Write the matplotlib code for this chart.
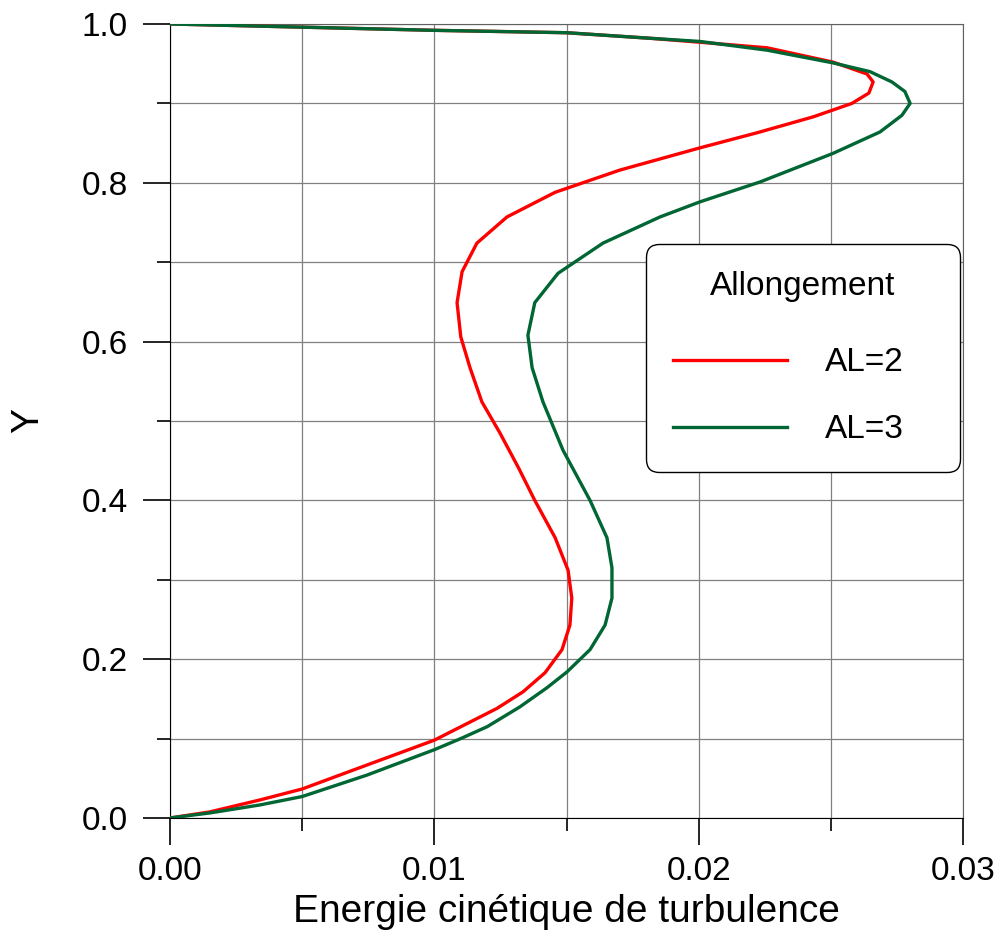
import matplotlib
matplotlib.use('Agg')
import matplotlib.pyplot as plt
from matplotlib.ticker import MultipleLocator

plt.rcParams['font.family'] = ['Liberation Sans', 'DejaVu Sans']

# Energie cinetique de turbulence vs Y
y_al2 = [0.0, 0.0076, 0.0227, 0.0365, 0.0667, 0.082, 0.098, 0.138, 0.159, 0.183,
         0.212, 0.243, 0.277, 0.312, 0.353, 0.400, 0.440, 0.485, 0.524, 0.567,
         0.606, 0.649, 0.688, 0.724, 0.757, 0.788, 0.816, 0.844, 0.863, 0.883,
         0.900, 0.913, 0.927, 0.937, 0.952, 0.970, 0.977, 0.982, 0.989, 0.992,
         0.996, 1.0]
k_al2 = [0.0, 0.0015, 0.0034, 0.0050, 0.00745, 0.0087, 0.0100, 0.01237, 0.01336, 0.01419,
         0.01483, 0.01513, 0.0152, 0.01506, 0.01457, 0.0138, 0.0132, 0.01248, 0.0118, 0.01135,
         0.0110, 0.01086, 0.01105, 0.01161, 0.01275, 0.01457, 0.01702, 0.02005, 0.02221, 0.02433,
         0.0258, 0.02644, 0.0266, 0.02637, 0.02508, 0.02259, 0.02005, 0.01816, 0.0150, 0.0100,
         0.0050, 0.0]

y_al3 = [0.0, 0.0063, 0.0164, 0.027, 0.054, 0.086, 0.100, 0.115, 0.140, 0.164,
         0.184, 0.212, 0.243, 0.277, 0.315, 0.353, 0.400, 0.463, 0.524, 0.567,
         0.608, 0.649, 0.686, 0.724, 0.757, 0.776, 0.801, 0.837, 0.864, 0.885,
         0.900, 0.915, 0.927, 0.940, 0.951, 0.967, 0.978, 0.982, 0.989, 0.992,
         0.996, 1.0]
k_al3 = [0.0, 0.0015, 0.0034, 0.0050, 0.00745, 0.0100, 0.0110, 0.0120, 0.01324, 0.01426,
         0.01502, 0.01589, 0.01646, 0.01672, 0.01672, 0.01653, 0.01589, 0.01487, 0.01411, 0.0137,
         0.01354, 0.0138, 0.01468, 0.01638, 0.01854, 0.02005, 0.02232, 0.02508, 0.02686, 0.02769,
         0.0280, 0.0278, 0.02731, 0.02648, 0.02508, 0.02259, 0.02005, 0.01816, 0.0150, 0.0100,
         0.0050, 0.0]

fig = plt.figure(figsize=(10, 9.44), dpi=100)
ax = fig.add_axes([0.17, 0.1335, 0.793, 0.8411])

ax.plot(k_al2, y_al2, color='#ff0000', lw=2.4, label='AL=2', zorder=3)
ax.plot(k_al3, y_al3, color='#006633', lw=2.4, label='AL=3', zorder=3)

ax.set_xlim(0, 0.03)
ax.set_ylim(0, 1.0)
ax.xaxis.set_major_locator(MultipleLocator(0.01))
ax.xaxis.set_minor_locator(MultipleLocator(0.005))
ax.yaxis.set_major_locator(MultipleLocator(0.2))
ax.yaxis.set_minor_locator(MultipleLocator(0.1))
ax.xaxis.set_major_formatter(plt.FormatStrFormatter('%.2f'))
ax.yaxis.set_major_formatter(plt.FormatStrFormatter('%.1f'))

ax.grid(which='both', color='#808080', lw=0.9)
ax.set_axisbelow(True)
ax.tick_params(which='major', direction='out', length=19.5, width=1.2, labelsize=24)
ax.tick_params(axis='x', which='major', pad=8)
ax.tick_params(axis='y', which='major', pad=11)
ax.tick_params(which='minor', direction='out', length=9.5, width=1.2)
for s in ax.spines.values():
    s.set_color('#606060')
ax.spines['left'].set_color('black')
ax.spines['bottom'].set_color('black')

ax.set_xlabel('Energie cinétique de turbulence', fontsize=28, labelpad=5)
ax.set_ylabel('Y', fontsize=27, labelpad=25)

leg = ax.legend(title='Allongement', loc='upper left',
                bbox_to_anchor=(0.6003, 0.4408, 0.396, 0.2821), mode='expand',
                fontsize=24, title_fontsize=24, handlelength=3.42, handletextpad=1.14,
                labelspacing=1.08, borderpad=0.8, frameon=True, fancybox=True,
                edgecolor='black', framealpha=1.0, borderaxespad=0)
leg.get_frame().set_linewidth(1.0)
leg.get_frame().set_boxstyle('round', pad=0, rounding_size=0.4)
leg._legend_box.sep = 33

fig.savefig('out.png', dpi=100)
